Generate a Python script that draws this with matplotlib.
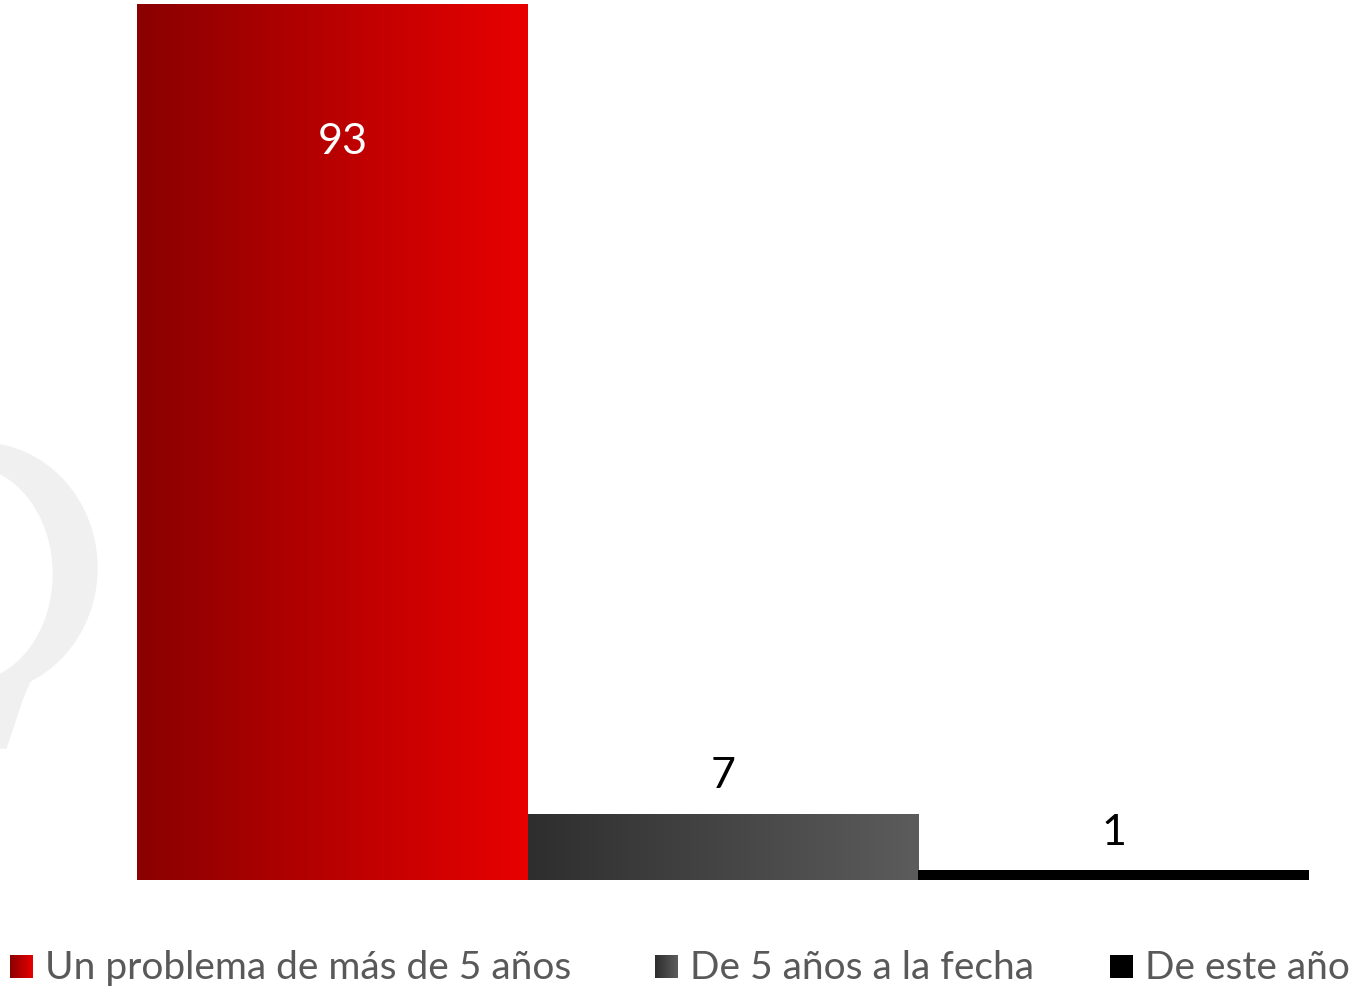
import matplotlib
matplotlib.use("Agg")
import matplotlib.pyplot as plt
import numpy as np
from matplotlib.patches import Ellipse, Polygon
from matplotlib.colors import LinearSegmentedColormap

categories = ["Un problema de más de 5 años", "De 5 años a la fecha", "De este año"]
values = [93, 7, 1]
grad_colors = [("#8a0000", "#e80000"), ("#2e2e2e", "#5c5c5c"), ("#000000", "#000000")]
label_colors = ["white", "black", "black"]

W, H = 1357, 990
plt.rcParams["font.family"] = ["Lato", "DejaVu Sans"]

fig = plt.figure(figsize=(W / 100, H / 100), dpi=100)

# background overlay in pixel coordinates (watermark + legend)
bg = fig.add_axes([0, 0, 1, 1])
bg.set_xlim(0, W)
bg.set_ylim(H, 0)
bg.axis("off")

wm = "#f0f0f0"
bg.add_patch(Ellipse((-20, 568), 234, 250, color=wm, zorder=0))
bg.add_patch(Polygon([(5, 672), (32, 676), (22, 700), (6, 748), (0, 748), (0, 690)],
                     closed=True, color=wm, zorder=0))
bg.add_patch(Ellipse((-32, 574), 168, 214, color="white", zorder=0.5))

ax = fig.add_axes([137 / W, (H - 880) / H, (1309 - 137) / W, (880 - 4) / H])
ax.patch.set_alpha(0)
ax.set_xlim(-0.5, len(values) - 0.5)
ax.set_ylim(0, 93)
ax.axis("off")

grad = np.linspace(0, 1, 256).reshape(1, -1)
for i, (v, (c0, c1)) in enumerate(zip(values, grad_colors)):
    cmap = LinearSegmentedColormap.from_list(f"g{i}", [c0, c1])
    ax.imshow(grad, cmap=cmap, extent=[i - 0.5, i + 0.5, 0, v], aspect="auto", zorder=2)

# value labels
ax.annotate(str(values[0]), (0, values[0]), xytext=(10, -138), textcoords="offset pixels",
            ha="center", va="center", fontsize=31, color=label_colors[0], zorder=3)
for i in (1, 2):
    ax.annotate(str(values[i]), (i, values[i]), xytext=(0, 38), textcoords="offset pixels",
                ha="center", va="center", fontsize=31, color=label_colors[i], zorder=3)

# legend
sq_x = [10, 655, 1110]
for x0, lab, (c0, c1) in zip(sq_x, categories, grad_colors):
    cmap = LinearSegmentedColormap.from_list("lg", [c0, c1])
    bg.imshow(grad, cmap=cmap, extent=[x0, x0 + 23, 978, 955], aspect="auto", zorder=2)
    bg.text(x0 + 35, 968, lab, ha="left", va="center", fontsize=28, color="#595959")

bg.set_xlim(0, W)
bg.set_ylim(H, 0)

fig.savefig("out.png", dpi=100)
